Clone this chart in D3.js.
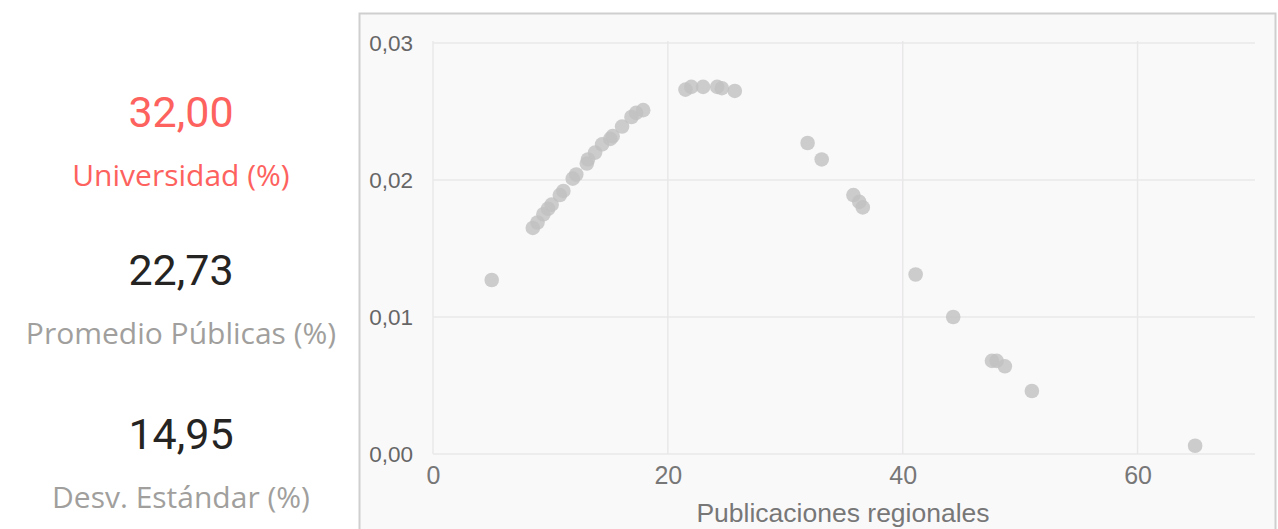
<!DOCTYPE html>
<html>
<head>
<meta charset="utf-8">
<script src="https://cdn.jsdelivr.net/npm/d3@7"></script>
<style>
  html, body { margin: 0; padding: 0; background: #fff; }
  svg { display: block; }
</style>
</head>
<body>
<svg id="chart" width="1278" height="529"></svg>
<script>
// card values on the left
const cardValues = ["32,00", "22,73", "14,95"];
const cardLabels = ["Universidad (%)", "Promedio Públicas (%)", "Desv. Estándar (%)"];

// scatter: publicaciones regionales vs densidad
const pubs = [5.0, 8.5, 8.9, 9.4, 9.8, 10.1, 10.8, 11.1, 11.9, 12.2, 13.1, 13.2, 13.8, 14.4, 15.1, 15.3,
  16.1, 16.9, 17.3, 17.9, 21.5, 22.0, 23.0, 24.2, 24.6, 25.7, 31.9, 33.1, 35.8, 36.3, 36.6,
  41.1, 44.3, 47.6, 48.0, 48.7, 51.0, 64.9];
const density = [0.0127, 0.0165, 0.0169, 0.0175, 0.0179, 0.0182, 0.0189, 0.0192, 0.0201, 0.0204, 0.0212, 0.0215,
  0.0220, 0.0226, 0.0230, 0.0232, 0.0239, 0.0246, 0.0249, 0.0251, 0.0266, 0.0268, 0.0268, 0.0268, 0.0267, 0.0265,
  0.0227, 0.0215, 0.0189, 0.0184, 0.0180, 0.0131, 0.0100, 0.0068, 0.0068, 0.0064, 0.0046, 0.0006];

const xTicks = [0, 20, 40, 60];
const yTicks = [0, 0.01, 0.02, 0.03];
const xTitle = "Publicaciones regionales";

const svg = d3.select("#chart");

// left card
const colors = ["#fd625e", "#252423", "#252423"];
const labelColors = ["#fd625e", "#a19f9d", "#a19f9d"];
const valueY = [127, 285, 449];
const cx = 181;

cardValues.forEach((v, i) => {
  svg.append("text")
    .attr("x", cx).attr("y", valueY[i])
    .attr("text-anchor", "middle")
    .style("font-family", "Roboto, sans-serif")
    .style("font-size", "43px")
    .style("fill", colors[i])
    .text(v);
  svg.append("text")
    .attr("x", cx).attr("y", valueY[i] + 59)
    .attr("text-anchor", "middle")
    .style("font-family", "'Open Sans', sans-serif")
    .style("font-size", "30px")
    .style("fill", labelColors[i])
    .text(cardLabels[i]);
});

// chart panel
svg.append("rect")
  .attr("x", 359.5).attr("y", 13.5)
  .attr("width", 916).attr("height", 530)
  .attr("fill", "#faf9fa")
  .attr("stroke", "#cfcfcf")
  .attr("stroke-width", 2);

const x = d3.scaleLinear().domain([0, 70]).range([433, 1255]);
const y = d3.scaleLinear().domain([0, 0.03]).range([454, 43]);

const locale = d3.formatLocale({ decimal: ",", thousands: ".", grouping: [3], currency: ["", "€"] });
const yFmt = locale.format(".2f");

// gridlines
svg.append("g")
  .selectAll("line.h")
  .data(yTicks)
  .join("line")
  .attr("x1", x(0)).attr("x2", x(70))
  .attr("y1", d => y(d)).attr("y2", d => y(d))
  .attr("stroke", "#e9e8e9").attr("stroke-width", 1.5);

svg.append("g")
  .selectAll("line.v")
  .data(xTicks)
  .join("line")
  .attr("x1", d => x(d)).attr("x2", d => x(d))
  .attr("y1", y(0.03) - 2).attr("y2", y(0))
  .attr("stroke", "#e9e8e9").attr("stroke-width", 1.5);

// axes (labels only)
const yAxis = svg.append("g")
  .attr("transform", `translate(${x(0) - 20},0)`)
  .call(d3.axisLeft(y).tickValues(yTicks).tickFormat(yFmt).tickSize(0));
yAxis.select(".domain").remove();
yAxis.selectAll("text")
  .attr("x", 0)
  .style("font-family", "'Liberation Sans', Arial, sans-serif")
  .style("font-size", "22.5px")
  .style("fill", "#666");

const xAxis = svg.append("g")
  .attr("transform", `translate(0,${y(0)})`)
  .call(d3.axisBottom(x).tickValues(xTicks).tickFormat(d3.format("d")).tickSize(0));
xAxis.select(".domain").remove();
xAxis.selectAll("text")
  .attr("y", 12)
  .style("font-family", "'Liberation Sans', Arial, sans-serif")
  .style("font-size", "25px")
  .style("fill", "#777");

svg.append("text")
  .attr("x", (x(0) + x(70)) / 2 - 1).attr("y", 521.5)
  .attr("text-anchor", "middle")
  .style("font-family", "'Liberation Sans', Arial, sans-serif")
  .style("font-size", "26.5px")
  .style("fill", "#777")
  .text(xTitle);

// points
svg.append("g")
  .selectAll("circle")
  .data(pubs.map((p, i) => [p, density[i]]))
  .join("circle")
  .attr("cx", d => x(d[0]))
  .attr("cy", d => y(d[1]))
  .attr("r", 7.3)
  .attr("fill", "#c0c0c0")
  .attr("fill-opacity", 0.8);
</script>
</body>
</html>
